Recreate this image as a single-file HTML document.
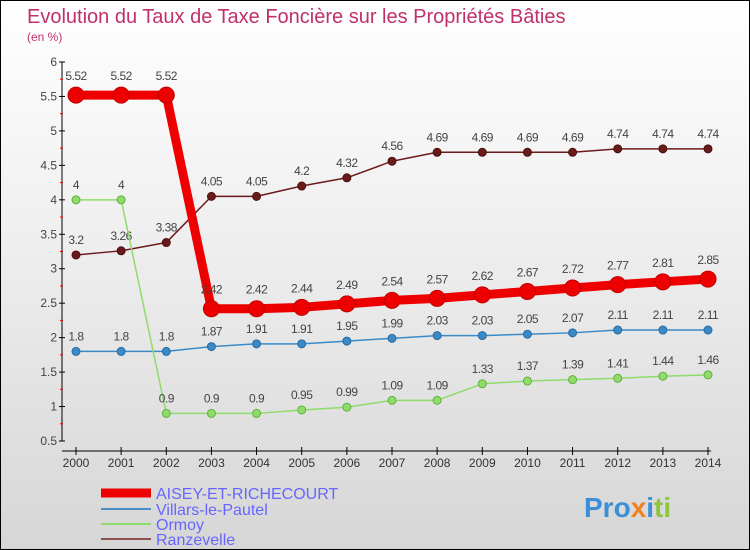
<!DOCTYPE html>
<html><head><meta charset="utf-8"><style>
body{margin:0}
#c{width:748px;height:548px;border:1px solid #000;background:linear-gradient(#ffffff,#f0f0f0 40%,#d6d6d6);position:relative;overflow:hidden;font-family:"Liberation Sans",sans-serif}
</style></head><body>
<div id="c">
<svg id="s" width="748" height="548" xmlns="http://www.w3.org/2000/svg">
<text x="26" y="22" font-size="20" fill="#c0306a">Evolution du Taux de Taxe Foncière sur les Propriétés Bâties</text>
<text x="26" y="40" font-size="12" fill="#c0306a">(en %)</text>
<g id="axes"></g><g id="series"></g>
<g font-size="16" fill="#6666ff">
<line x1="100" y1="492" x2="150" y2="492" stroke="#e00" stroke-width="9"/>
<text x="155" y="498">AISEY-ET-RICHECOURT</text>
<line x1="100" y1="508" x2="150" y2="508" stroke="#4a90c8" stroke-width="2"/>
<text x="155" y="514">Villars-le-Pautel</text>
<line x1="100" y1="523" x2="150" y2="523" stroke="#8fdc6a" stroke-width="2"/>
<text x="155" y="529">Ormoy</text>
<line x1="100" y1="538" x2="150" y2="538" stroke="#8b5050" stroke-width="2"/>
<text x="155" y="544">Ranzevelle</text>
</g>
<text x="583" y="516" font-size="28" font-weight="bold"><tspan fill="#3a8fd8">Pro</tspan><tspan fill="#f08020">x</tspan><tspan fill="#3a8fd8">i</tspan><tspan fill="#8cc63e">ti</tspan></text>
</svg>
</div>
<script>
const years=[2000,2001,2002,2003,2004,2005,2006,2007,2008,2009,2010,2011,2012,2013,2014];
const aisey=[5.52,5.52,5.52,2.42,2.42,2.44,2.49,2.54,2.57,2.62,2.67,2.72,2.77,2.81,2.85];
const villars=[1.8,1.8,1.8,1.87,1.91,1.91,1.95,1.99,2.03,2.03,2.05,2.07,2.11,2.11,2.11];
const ormoy=[4,4,0.9,0.9,0.9,0.95,0.99,1.09,1.09,1.33,1.37,1.39,1.41,1.44,1.46];
const ranzevelle=[3.2,3.26,3.38,4.05,4.05,4.2,4.32,4.56,4.69,4.69,4.69,4.69,4.74,4.74,4.74];
const yTicks=[0.5,1,1.5,2,2.5,3,3.5,4,4.5,5,5.5,6];
const NS="http://www.w3.org/2000/svg";
function X(i){return 75+(i)*(632/(years.length-1));}
function Y(v){return 440-(v-0.5)*(379/5.5);}
function mk(t,a,p){const e=document.createElementNS(NS,t);for(const k in a)e.setAttribute(k,a[k]);p.appendChild(e);return e;}
const ax=document.getElementById('axes');
let l=mk('line',{x1:61,y1:61,x2:61,y2:440,stroke:'#000','stroke-width':1},ax);


l=mk('line',{x1:61,y1:450,x2:710,y2:450,stroke:'#000','stroke-width':1},ax);


yTicks.forEach(v=>{
  const y=Y(v);
  mk('line',{x1:58,y1:y,x2:64,y2:y,stroke:'#000'},ax);
  const m=Y(v+0.25); if(v<6) mk('line',{x1:59,y1:m,x2:62,y2:m,stroke:'#e00'},ax);
  const t=mk('text',{x:56,y:y+4,'font-size':12,fill:'#444','text-anchor':'end'},ax);
  t.textContent=v;
  
  
});
years.forEach((yr,i)=>{
  mk('line',{x1:X(i),y1:446,x2:X(i),y2:454,stroke:'#000'},ax);
  const t=mk('text',{x:X(i),y:466,'font-size':12,fill:'#333','text-anchor':'middle'},ax);
  t.textContent=yr;
  
  
});
const sg=document.getElementById('series');
function draw(vals,color,w,r,name,dark){
  const g=mk('g',{},sg);
  
  
  const pts=vals.map((v,i)=>X(i)+','+Y(v)).join(' ');
  const pl=mk('polyline',{points:pts,fill:'none',stroke:color,'stroke-width':w,'stroke-linejoin':'round'},g);
  
  
  vals.forEach((v,i)=>{
    const c=mk('circle',{cx:X(i),cy:Y(v),r:r,fill:color,stroke:dark,'stroke-width':1},g);
    
    
    const t=mk('text',{x:X(i),y:Y(v)-(r+7),'font-size':12,fill:'#444','text-anchor':'middle','letter-spacing':'-0.5'},g);
    t.textContent=v;
    
    
  });
}
draw(ranzevelle,'#6b1a1a',1.5,4,'ranzevelle','#4a1010');
draw(villars,'#3a8ac8',1.5,4,'villars','#2a6aa0');
draw(ormoy,'#8fdc6a',1.5,4,'ormoy','#60b040');
draw(aisey,'#ee0000',9,8,'aisey','#c00000');
</script>
</body></html>
